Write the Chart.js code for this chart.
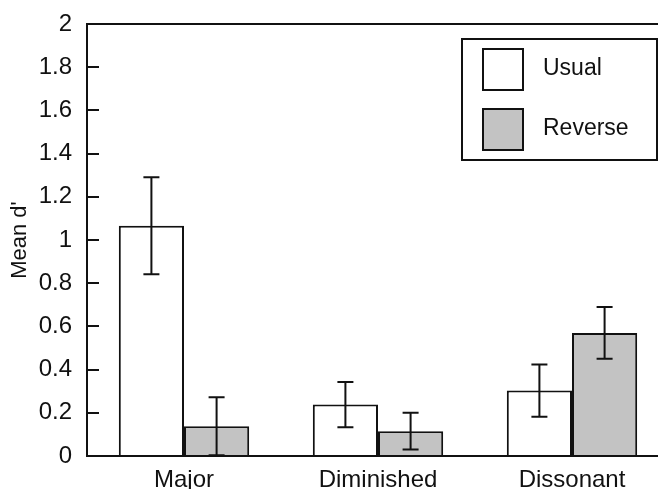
<!DOCTYPE html>
<html><head><meta charset="utf-8">
<script src="https://cdn.jsdelivr.net/npm/chart.js@4/dist/chart.umd.min.js"></script>
<style>
html,body{margin:0;padding:0;background:#fff;overflow:hidden;width:658px;height:489px;}
#wrap{position:absolute;left:0;top:0;width:672px;height:489px;}
</style></head><body>
<div id="wrap"><canvas id="c" width="672" height="489"></canvas></div>
<script>
const categories = ["Major", "Diminished", "Dissonant"];
const seriesNames = ["Usual", "Reverse"];
const usualMeans = [1.066, 0.238, 0.303];
const usualErr = [0.224, 0.105, 0.121];
const reverseMeans = [0.138, 0.115, 0.57];
const reverseErr = [0.134, 0.085, 0.12];
const yTicks = [0, 0.2, 0.4, 0.6, 0.8, 1, 1.2, 1.4, 1.6, 1.8, 2];
const fillColors = ["#ffffff", "#c3c3c3"];
const FONT = "'Liberation Sans', Arial, Helvetica, sans-serif";

const errs = [usualErr, reverseErr];

const framePlugin = {
  id: 'frame',
  afterDatasetsDraw(chart) {
    const ctx = chart.ctx, a = chart.chartArea, ys = chart.scales.y;
    ctx.save();
    ctx.strokeStyle = '#111'; ctx.lineWidth = 2;
    // error bars
    chart.data.datasets.forEach((ds, di) => {
      const meta = chart.getDatasetMeta(di);
      meta.data.forEach((bar, i) => {
        const v = ds.data[i], e = errs[di][i];
        const yt = ys.getPixelForValue(v + e), yb = ys.getPixelForValue(Math.max(0, v - e));
        const x = bar.x, cw = 8;
        ctx.beginPath();
        ctx.moveTo(x, yt); ctx.lineTo(x, yb);
        ctx.moveTo(x - cw, yt); ctx.lineTo(x + cw, yt);
        ctx.moveTo(x - cw, yb); ctx.lineTo(x + cw, yb);
        ctx.stroke();
      });
    });
    // frame
    ctx.beginPath();
    ctx.rect(a.left, a.top, a.right - a.left, a.bottom - a.top);
    ctx.stroke();
    // inward y ticks
    yTicks.forEach(t => {
      const y = Math.round(ys.getPixelForValue(t));
      ctx.beginPath(); ctx.moveTo(a.left, y); ctx.lineTo(a.left + 12, y); ctx.stroke();
    });
    // legend
    const lx = 462, ly = 39, lw = 195, lh = 121;
    ctx.fillStyle = '#fff';
    ctx.fillRect(lx, ly, lw, lh);
    ctx.strokeRect(lx, ly, lw, lh);
    chart.data.datasets.forEach((ds, di) => {
      const sy = 49 + di * 60;
      ctx.fillStyle = fillColors[di];
      ctx.fillRect(483, sy, 40, 41);
      ctx.strokeRect(483, sy, 40, 41);
      ctx.fillStyle = '#111';
      ctx.font = '23px ' + FONT;
      ctx.textBaseline = 'middle';
      ctx.textAlign = 'left';
      ctx.fillText(ds.label, 543, sy + 20);
    });
    ctx.restore();
  }
};

new Chart(document.getElementById('c'), {
  type: 'bar',
  data: {
    labels: categories,
    datasets: [
      { label: seriesNames[0], data: usualMeans, backgroundColor: fillColors[0], borderColor: '#111', borderWidth: 2 },
      { label: seriesNames[1], data: reverseMeans, backgroundColor: fillColors[1], borderColor: '#111', borderWidth: 2 }
    ]
  },
  options: {
    responsive: false,
    animation: false,
    devicePixelRatio: 1,
    layout: { padding: { top: 24, right: 3, left: 0, bottom: 0 } },
    plugins: { legend: { display: false }, tooltip: { enabled: false } },
    datasets: { bar: { categoryPercentage: 0.672, barPercentage: 1 } },
    scales: {
      x: {
        grid: { display: false, drawTicks: false },
        border: { display: false },
        ticks: { color: '#111', font: { family: FONT, size: 24 }, padding: 10 },
        afterFit: s => { s.height = 33; s.paddingLeft = 0; s.paddingRight = 0; }
      },
      y: {
        min: 0, max: 2,
        afterBuildTicks: s => { s.ticks = yTicks.map(v => ({ value: v })); },
        grid: { display: false, drawTicks: false },
        border: { display: false },
        ticks: { color: '#111', font: { family: FONT, size: 24 }, padding: 15, callback: v => String(v) },
        title: { display: true, text: "Mean d'", color: '#111', font: { family: FONT, size: 22 }, padding: { top: 7, bottom: 0 } },
        afterFit: s => { s.width = 87; s.paddingTop = 0; s.paddingBottom = 0; }
      }
    }
  },
  plugins: [framePlugin]
});
</script>
</body></html>
